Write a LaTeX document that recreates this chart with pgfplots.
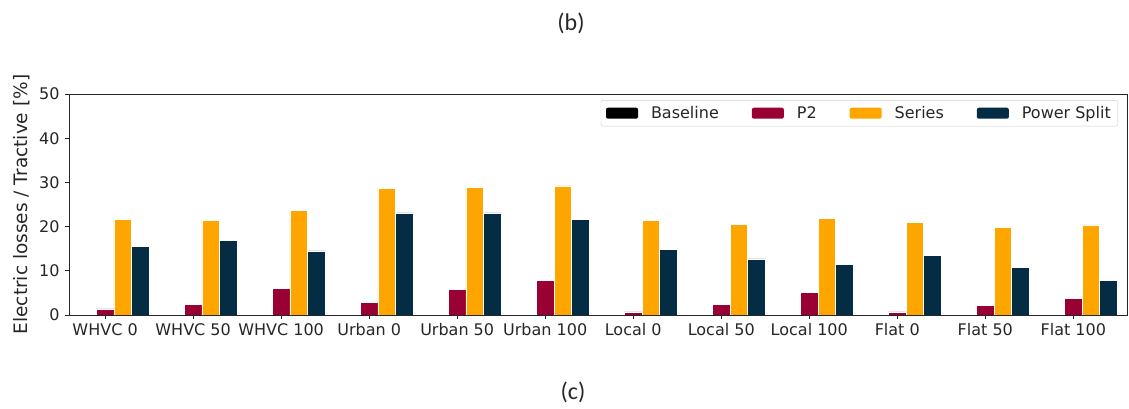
\documentclass[border=0pt]{standalone}
\usepackage{fontspec}
\setmainfont{DejaVu Sans}
\newfontfamily\calibri{Carlito}
\usepackage{pgfplots}
\usepackage{pgfplotstable}
\pgfplotsset{compat=1.18}
\definecolor{ptwo}{RGB}{153,0,51}
\definecolor{seriesc}{RGB}{255,165,0}
\definecolor{psplit}{RGB}{4,44,69}
\definecolor{axc}{RGB}{38,38,38}
\pgfplotstableread{
x base p2 series ps
0 0 1.4 21.6 15.5
1 0 2.4 21.4 16.9
2 0 6.0 23.6 14.5
3 0 2.8 28.7 23.1
4 0 5.8 28.8 23.1
5 0 7.9 29.2 21.6
6 0 0.7 21.4 14.9
7 0 2.4 20.5 12.7
8 0 5.2 21.9 11.5
9 0 0.7 21.0 13.5
10 0 2.2 19.9 10.7
11 0 3.8 20.4 7.9
}\data
\begin{document}
\begin{tikzpicture}
\useasboundingbox (0pt,0pt) rectangle (1129pt,408pt);
\node[font=\calibri\fontsize{24}{28}\selectfont, text=black!85] at (571pt,385pt) {(b)};
\node[font=\calibri\fontsize{24}{28}\selectfont, text=black!85] at (573pt,16pt) {(c)};
\begin{axis}[
  at={(69pt,93pt)}, anchor=south west,
  width=1058pt, height=221pt, scale only axis,
  xmin=-0.41, xmax=11.61, ymin=0, ymax=50,
  ybar, bar width=0.2,
  axis on top,
  axis line style={axc, line width=0.9pt},
  xtick=data,
  xticklabels={WHVC 0, WHVC 50, WHVC 100, Urban 0, Urban 50, Urban 100, Local 0, Local 50, Local 100, Flat 0, Flat 50, Flat 100},
  ytick={0,10,20,30,40,50},
  tick align=outside, tick pos=left,
  major tick length=4pt,
  tick style={axc, line width=0.9pt},
  /pgf/number format/assume math mode=true,
  tick label style={font=\fontsize{16}{19}\selectfont, text=axc},
  yticklabel style={xshift=-2pt},
  xticklabel style={yshift=-1pt},
  ylabel={Electric losses / Tractive [\%]},
  ylabel style={font=\fontsize{18.5}{22}\selectfont, text=axc, at={(rel axis cs:-0.0335,0.5)}, anchor=south},
  legend columns=4,
  legend style={at={(rel axis cs:0.9915,0.972)}, anchor=north east,
    draw=black!20, rounded corners=2pt, fill=white,
    font=\fontsize{16}{19}\selectfont, text=axc,
    inner xsep=5pt, inner ysep=4pt,
    /tikz/every odd column/.append style={column sep=11pt},
    /tikz/every even column/.append style={column sep=31pt}},
  legend image code/.code={\fill[#1, draw=none] (0pt,-5.5pt) rectangle (32pt,5.5pt);},
]
\addplot[fill=black, draw=none, bar shift=-0.2] table[x=x,y=base]{\data};
\addplot[fill=ptwo, draw=white, line width=0.6pt, bar shift=0] table[x=x,y=p2]{\data};
\addplot[fill=seriesc, draw=white, line width=0.6pt, bar shift=0.2] table[x=x,y=series]{\data};
\addplot[fill=psplit, draw=white, line width=0.6pt, bar shift=0.4] table[x=x,y=ps]{\data};
\legend{Baseline, P2, Series, Power Split}
\end{axis}
\end{tikzpicture}
\end{document}
